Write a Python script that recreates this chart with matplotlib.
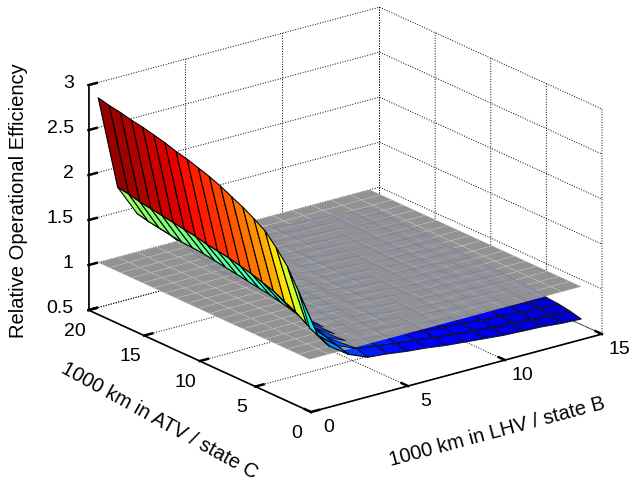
import numpy as np
import matplotlib
matplotlib.use("Agg")
import matplotlib.pyplot as plt
from matplotlib.colors import Normalize
from matplotlib.text import Text
from matplotlib.transforms import ScaledTranslation
from mpl_toolkits.mplot3d import proj3d

plt.rcParams['font.family'] = ['Liberation Sans', 'DejaVu Sans']

x_km = [0.5, 1.5, 2.5, 3.5, 4.5, 5.5, 6.5, 7.5, 8.5, 9.5, 10.5, 11.5, 12.5, 13.5, 14.5]
y_km = list(range(1, 21))
# Relative efficiency: one row per y_km, one value per x_km
z_rows = [
 [1.35,1.09,0.94,.85,.83,.80,.78,.75,.73,.71,.69,.68,.67,.65,.64],
 [1.70,1.15,0.98,.89,.86,.83,.81,.78,.76,.74,.72,.71,.69,.68,.67],
 [1.92,1.22,1.02,.92,.89,.86,.83,.80,.78,.76,.74,.73,.71,.70,.69],
 [2.07,1.30,1.06,.94,.91,.88,.85,.82,.79,.77,.75,.74,.73,.71,.70],
 [2.20,1.36,1.10,.96,.93,.89,.87,.83,.81,.79,.77,.76,.74,.73,.72],
 [2.28,1.42,1.14,.98,.94,.91,.88,.84,.82,.80,.78,.77,.75,.74,.73],
 [2.35,1.46,1.17,.99,.95,.92,.89,.85,.83,.81,.79,.78,.76,.75,.74],
 [2.41,1.50,1.20,1.01,.97,.93,.90,.87,.84,.82,.80,.79,.77,.76,.75],
 [2.47,1.53,1.22,1.02,.98,.94,.91,.87,.85,.82,.80,.79,.78,.76,.75],
 [2.52,1.56,1.24,1.02,.98,.94,.91,.88,.85,.83,.81,.80,.78,.77,.76],
 [2.56,1.58,1.26,1.03,.99,.95,.92,.88,.86,.83,.81,.80,.79,.77,.76],
 [2.60,1.60,1.28,1.04,.99,.96,.92,.89,.86,.84,.82,.81,.79,.78,.77],
 [2.63,1.63,1.30,1.05,.99,.96,.93,.89,.87,.84,.82,.81,.80,.78,.77],
 [2.67,1.65,1.32,1.05,.99,.97,.94,.90,.87,.85,.83,.82,.80,.79,.78],
 [2.70,1.67,1.33,1.06,.99,.98,.94,.90,.88,.85,.83,.82,.81,.79,.78],
 [2.73,1.69,1.34,1.10,.99,.98,.95,.91,.88,.86,.84,.83,.81,.80,.79],
 [2.75,1.71,1.36,1.14,.99,.99,.95,.91,.89,.86,.84,.83,.82,.80,.79],
 [2.78,1.73,1.38,1.20,1.00,.99,.96,.92,.89,.87,.85,.84,.82,.81,.80],
 [2.80,1.76,1.40,1.26,1.02,.99,.96,.92,.90,.87,.85,.84,.83,.81,.80],
 [2.83,1.78,1.43,1.30,1.06,.99,.96,.92,.90,.87,.85,.84,.83,.81,.80],
]
plane_level = 1.0
x_ticks = [0, 5, 10, 15]
y_ticks = [0, 5, 10, 15, 20]
z_ticks = [0.5, 1, 1.5, 2, 2.5, 3]
z_ticklabels = ['0.5', '1', '1.5', '2', '2.5', '3']
x_label = '1000 km in LHV / state B'
y_label = '1000 km in ATV / state C'
z_label = 'Relative Operational Efficiency'

X, Y = np.meshgrid(x_km, y_km)
Z = np.array(z_rows)
P = np.full_like(Z, plane_level)
norm = Normalize(0.50, 2.85)
cmap = plt.get_cmap('jet')
FC = cmap(norm(Z))

fig = plt.figure(figsize=(6.38, 4.84), dpi=100)
W, H = 638, 484
ax = fig.add_axes([0, 0, 1, 1], projection='3d', proj_type='ortho', computed_zorder=False)
ax.view_init(elev=20.5, azim=-127.4)
ax.set_box_aspect((1, 1, 240 / 366))
ax.set_xlim(0, 15); ax.set_ylim(0, 20); ax.set_zlim(0.5, 3)

ax.plot_surface(X[:, 2:], Y[:, 2:], Z[:, 2:], rstride=1, cstride=1, facecolors=FC[:, 2:],
                shade=False, edgecolor='k', linewidth=0.8, zorder=1)
ax.plot_surface(X, Y, P, rstride=1, cstride=1, color='#929292', shade=False,
                edgecolor=(0.78, 0.78, 0.78, 0.55), linewidth=0.4, zorder=2)
ax.plot_wireframe(X[:, 3:], Y[:, 3:], Z[:, 3:], rstride=1, cstride=1,
                  color=(0.33, 0.38, 0.70), alpha=0.35, linewidth=0.5, zorder=3)
# the small blue facets that poke through the plane near the front corner
nx = len(x_km)
spikes = [[i * nx + 2, i * nx + 3, (i + 1) * nx + 2] for i in range(1, 5)]
ax.plot_trisurf(X.ravel(), Y.ravel(), Z.ravel(), triangles=spikes, color=cmap(norm(0.95)),
                shade=False, edgecolor='k', linewidth=0.5, zorder=3.5)
ax.plot_surface(X[:, :3], Y[:, :3], Z[:, :3], rstride=1, cstride=1, facecolors=FC[:, :3],
                shade=False, edgecolor='k', linewidth=0.8, zorder=4)

ax.set_xticks(x_ticks); ax.set_yticks(y_ticks); ax.set_zticks(z_ticks)
ax.set_zticklabels(z_ticklabels)
ax.tick_params(labelsize=14, pad=2)
ax.set_xlabel(x_label, fontsize=14.5, labelpad=8)
ax.set_ylabel(y_label, fontsize=14.5, labelpad=8)
ax.set_zlabel(z_label, fontsize=14.5, labelpad=8)
for a in (ax.xaxis, ax.yaxis, ax.zaxis):
    a.set_pane_color((1, 1, 1, 0))
    a.pane.set_edgecolor((1, 1, 1, 0))
    a.line.set_color('k')
    a.line.set_linewidth(1.2)
    a._axinfo['grid'].update(color='k', linestyle=':', linewidth=0.7)
    a._axinfo['tick'].update(inward_factor=0.0, outward_factor=0.35, linewidth={True: 1.8, False: 0.5})

def offset(dx, dy):
    return ax.transData + ScaledTranslation(dx / 100, dy / 100, fig.dpi_scale_trans)

def shift(text, dx, dy):
    text.set_transform(offset(dx, dy))
    text.set_transform = lambda tr: None

def shift_label(label, dx, dy):
    def draw(renderer):
        label._transform = offset(dx, dy)
        Text.draw(label, renderer)
    label.draw = draw

for t in ax.xaxis.get_major_ticks():
    shift(t.label1, 7, 9)
    t.tick1line.set_clip_on(False)
for t in ax.yaxis.get_major_ticks():
    shift(t.label1, 0, 2)
    t.tick1line.set_clip_on(False)
for t in ax.zaxis.get_major_ticks():
    t.label1.set_ha('right')
    shift(t.label1, 10, 9)
    t.tick1line.set_clip_on(False)
shift_label(ax.xaxis.label, 10, -13)
shift_label(ax.yaxis.label, 0, -18)
shift_label(ax.zaxis.label, 2, -6)
ax.yaxis.label.set_rotation(-29)
ax.yaxis.label.set_rotation = lambda a: None

def px(x, y, z):
    u, v, _ = proj3d.proj_transform(x, y, z, ax.get_proj())
    return ax.transData.transform((u, v))

side = 484.0
cx, cy = 319.0, 242.0
for _ in range(4):
    ax.set_position([(cx - side / 2) / W, (cy - side / 2) / H, side / W, side / H])
    ax.apply_aspect()
    a = px(0, 0, 0.5); b = px(15, 0, 0.5)
    side *= 291.0 / (b[0] - a[0])
    ax.set_position([(cx - side / 2) / W, (cy - side / 2) / H, side / W, side / H])
    ax.apply_aspect()
    a = px(0, 0, 0.5)
    cx += 311 - a[0]; cy += (H - 412) - a[1]
ax.set_position([(cx - side / 2) / W, (cy - side / 2) / H, side / W, side / H])

fig.savefig('out.png', dpi=100)
